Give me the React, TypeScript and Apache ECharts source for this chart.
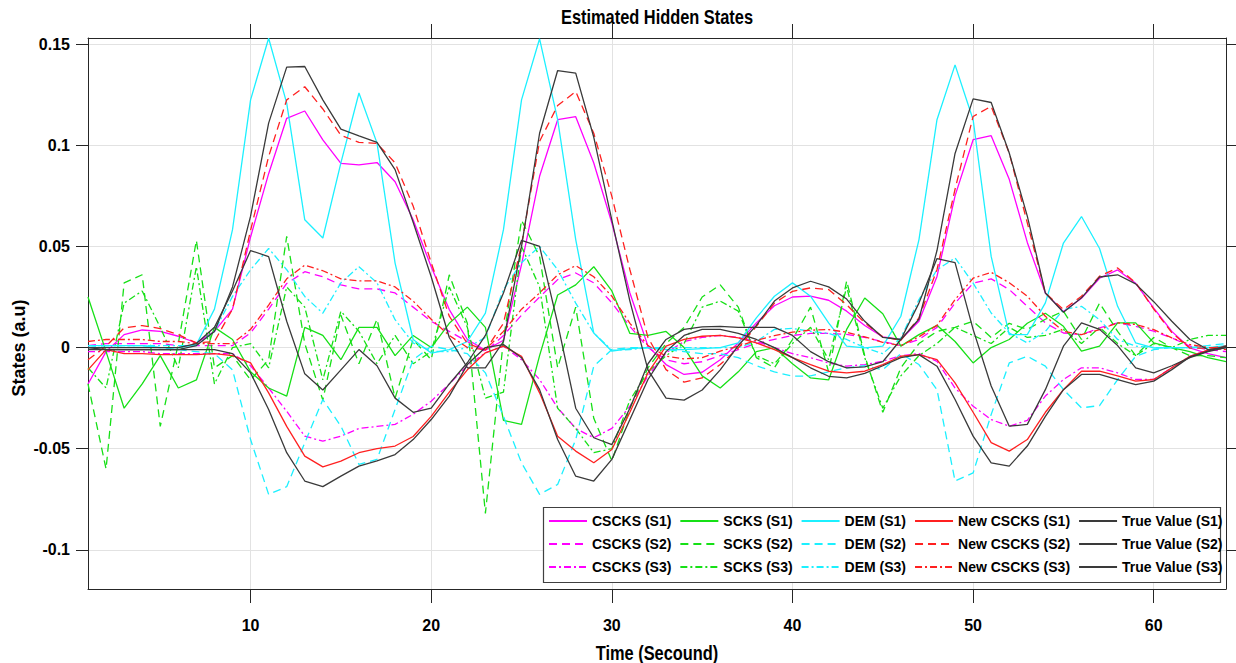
import React, { useEffect, useRef } from "react";
import * as echarts from "echarts";

const SANS = "'Liberation Sans', Arial, Helvetica, sans-serif";

const time = [1, 2, 3, 4, 5, 6, 7, 8, 9, 10, 11, 12, 13, 14, 15, 16, 17, 18, 19, 20, 21, 22, 23, 24, 25, 26, 27, 28, 29, 30, 31, 32, 33, 34, 35, 36, 37, 38, 39, 40, 41, 42, 43, 44, 45, 46, 47, 48, 49, 50, 51, 52, 53, 54, 55, 56, 57, 58, 59, 60, 61, 62, 63, 64];

const xTicks = [10, 20, 30, 40, 50, 60];
const yTicks = [-0.1, -0.05, 0, 0.05, 0.1, 0.15];

const csccksS1 = [-0.018, -0.002, 0.0064, 0.0087, 0.008, 0.0056, 0.0023, 0.008, 0.019, 0.0547,
  0.086, 0.1134, 0.117, 0.1027, 0.0911, 0.0904, 0.0915, 0.082, 0.0632, 0.040,
  0.0188, 0.004, -0.0013, 0.0036, 0.041, 0.0847, 0.1127, 0.1142, 0.0913, 0.0616,
  0.027, 0.0007, -0.0084, -0.0133, -0.0122, -0.006, 0.0023, 0.0122, 0.0207, 0.025,
  0.0254, 0.0234, 0.018, 0.0109, 0.0053, 0.004, 0.013, 0.0352, 0.075, 0.1028,
  0.1048, 0.0832, 0.052, 0.027, 0.0178, 0.0244, 0.0343, 0.0384, 0.0318, 0.0195,
  0.008, -0.0002, -0.003, -0.005];
const csccksS2 = [0.001, 0.002, 0.002, 0.002, 0.002, 0.001, 0.001, 0.001, 0.001, 0.0072,
  0.019, 0.0317, 0.0375, 0.035, 0.031, 0.029, 0.029, 0.027, 0.020, 0.013,
  0.008, 0.003, -0.002, 0.006, 0.016, 0.025, 0.0336, 0.0369, 0.032, 0.0221,
  0.0105, 0.0, -0.006, -0.008, -0.007, -0.004, -0.001, 0.002, 0.004, 0.006,
  0.007, 0.007, 0.0065, 0.005, 0.003, 0.001, 0.004, 0.010, 0.022, 0.0318,
  0.034, 0.0287, 0.0204, 0.0122, 0.0072, 0.0064, 0.0097, 0.0122, 0.0105, 0.0081,
  0.0048, 0.0007, -0.001, -0.002];
const csccksS3 = [-0.002, -0.002, -0.002, -0.002, -0.003, -0.003, -0.003, -0.003, -0.003, -0.009,
  -0.020, -0.0315, -0.0438, -0.0463, -0.0438, -0.040, -0.039, -0.038, -0.033, -0.0265,
  -0.018, -0.009, -0.0026, 0.0007, -0.006, -0.0158, -0.0298, -0.040, -0.0446, -0.040,
  -0.029, -0.014, -0.0026, 0.003, 0.005, 0.006, 0.005, 0.003, 0.0, -0.003,
  -0.005, -0.0076, -0.0092, -0.0084, -0.0068, -0.004, -0.003, -0.0068, -0.020, -0.029,
  -0.0356, -0.0389, -0.036, -0.024, -0.0158, -0.010, -0.010, -0.0125, -0.0158, -0.0158,
  -0.010, -0.0043, -0.0013, -0.0002];

const scksS1 = [0.025, -0.002, -0.030, -0.018, -0.004, -0.020, -0.016, 0.010, 0.004, -0.012,
  -0.020, -0.024, 0.010, 0.006, -0.006, 0.010, 0.010, -0.004, 0.006, 0.0,
  0.012, 0.020, 0.010, -0.036, -0.038, -0.004, 0.026, 0.031, 0.040, 0.028,
  0.007, 0.006, 0.008, 0.000, -0.014, -0.020, -0.012, -0.002, 0.0, -0.008,
  -0.015, -0.016, 0.009, 0.0245, 0.0167, 0.0007, 0.0064, 0.011, 0.003, -0.0076,
  0.0, 0.004, 0.012, 0.017, 0.0105, -0.0018, 0.0007, 0.0122, 0.0122, 0.0023,
  0.0, -0.002, -0.005, -0.007];
const scksS2 = [-0.018, -0.060, 0.032, 0.036, -0.039, 0.002, 0.053, -0.010, -0.004, -0.016,
  -0.006, 0.055, 0.002, -0.026, 0.016, -0.008, 0.014, -0.025, 0.004, -0.006,
  0.036, 0.012, -0.082, 0.004, 0.063, 0.045, -0.010, 0.020, -0.035, -0.056,
  -0.030, -0.010, 0.002, 0.010, 0.025, 0.031, 0.020, -0.005, -0.010, 0.004,
  0.020, -0.012, 0.033, -0.004, -0.032, -0.010, 0.002, 0.008, 0.010, 0.013,
  0.005, 0.012, 0.009, 0.014, 0.018, 0.004, 0.022, 0.008, -0.004, 0.005,
  0.0, -0.004, -0.004, -0.005];
const scksS3 = [-0.010, -0.020, 0.022, 0.028, 0.010, -0.010, 0.040, -0.018, 0.0, 0.002,
  -0.010, 0.030, 0.020, -0.016, 0.018, 0.008, -0.008, 0.006, -0.008, -0.002,
  0.030, 0.010, -0.025, -0.022, 0.050, 0.030, -0.030, -0.040, -0.052, -0.050,
  -0.026, -0.012, -0.004, 0.002, 0.020, 0.023, 0.018, -0.004, -0.008, 0.002,
  0.010, -0.006, 0.030, -0.005, -0.030, -0.014, -0.004, 0.002, 0.010, 0.006,
  0.002, 0.010, 0.005, 0.006, 0.009, 0.002, 0.010, 0.002, -0.004, 0.002,
  0.0, 0.004, 0.006, 0.006];

const demS1 = [0.001, 0.001, 0.001, 0.001, 0.0, 0.0, 0.0015, 0.019, 0.0583, 0.1225,
  0.153, 0.1209, 0.0632, 0.0542, 0.0913, 0.1259, 0.1011, 0.0418, 0.004, -0.0027,
  -0.001, 0.003, 0.017, 0.0583, 0.1225, 0.1527, 0.1127, 0.0534, 0.0072, -0.0018,
  -0.0005, 0.0, -0.001, -0.001, -0.0005, 0.0, 0.0023, 0.0147, 0.0254, 0.032,
  0.0254, 0.0122, 0.0007, -0.0002, 0.0007, 0.0155, 0.0533, 0.1127, 0.1398, 0.1127,
  0.0451, 0.0064, 0.0064, 0.0221, 0.0517, 0.0648, 0.049, 0.0204, 0.0023, -0.0002,
  0.0, 0.0, 0.0, 0.001];
const demS2 = [0.0, 0.001, 0.001, 0.001, 0.0, -0.001, -0.002, -0.003, -0.011, -0.0455,
  -0.0726, -0.0688, -0.0471, -0.0257, -0.0389, -0.0578, -0.0553, -0.0306, -0.006, 0.0007,
  -0.001, -0.003, -0.0125, -0.034, -0.057, -0.0726, -0.0677, -0.0455, -0.0092, -0.001,
  0.0, 0.0, -0.001, -0.002, -0.003, -0.003, -0.005, -0.009, -0.012, -0.0142,
  -0.014, -0.012, -0.010, -0.009, -0.011, -0.003, -0.0084, -0.0208, -0.066, -0.062,
  -0.0331, -0.0076, -0.0043, -0.0092, -0.0208, -0.0298, -0.0287, -0.0158, -0.0043, -0.001,
  0.0, 0.0, 0.001, 0.002];
const demS3 = [0.001, 0.001, 0.001, 0.001, 0.001, 0.001, 0.001, 0.008, 0.0253, 0.0385,
  0.049, 0.0385, 0.0253, 0.017, 0.032, 0.040, 0.032, 0.0138, 0.0023, -0.0018,
  -0.002, 0.0, 0.005, 0.0287, 0.042, 0.050, 0.0385, 0.022, 0.0072, -0.0013,
  -0.001, 0.0, 0.0, 0.0, 0.0, 0.0, 0.0, 0.003, 0.009, 0.0095,
  0.008, 0.007, 0.004, 0.0, -0.003, 0.0048, 0.0237, 0.0385, 0.0443, 0.0319,
  0.0171, 0.0072, 0.0023, 0.008, 0.0188, 0.0204, 0.0138, 0.004, 0.0007, 0.0,
  0.0, 0.0, 0.0, 0.0];

const newS1 = [-0.011, -0.001, -0.003, -0.003, -0.0035, -0.0035, -0.0035, -0.003, -0.004, -0.0076,
  -0.0224, -0.039, -0.0537, -0.059, -0.0562, -0.052, -0.050, -0.0487, -0.044, -0.034,
  -0.022, -0.011, -0.0026, 0.0007, -0.0043, -0.0224, -0.0438, -0.0512, -0.057, -0.0504,
  -0.032, -0.0125, 0.0007, 0.004, 0.0056, 0.006, 0.0048, 0.0023, -0.001, -0.005,
  -0.0084, -0.0117, -0.0125, -0.0117, -0.0084, -0.0043, -0.0035, -0.006, -0.0175, -0.032,
  -0.047, -0.0512, -0.0455, -0.032, -0.0208, -0.0117, -0.0117, -0.014, -0.0166, -0.0158,
  -0.010, -0.0043, -0.0013, 0.0007];
const newS2 = [-0.006, 0.0007, 0.0097, 0.0109, 0.0094, 0.0064, 0.0023, 0.003, 0.019, 0.058,
  0.0945, 0.1225, 0.129, 0.118, 0.105, 0.1015, 0.101, 0.0913, 0.070, 0.042,
  0.0155, 0.002, -0.0013, 0.012, 0.051, 0.102, 0.1197, 0.1266, 0.106, 0.0748,
  0.0385, 0.005, -0.0109, -0.0171, -0.015, -0.0084, -0.0002, 0.0105, 0.022, 0.0278,
  0.0295, 0.0287, 0.0212, 0.0122, 0.0053, 0.0036, 0.0147, 0.0385, 0.0783, 0.1143,
  0.1193, 0.0962, 0.0617, 0.027, 0.0188, 0.0254, 0.0353, 0.0394, 0.0321, 0.019,
  0.0074, -0.0003, -0.0003, 0.0007];
const newS3 = [0.003, 0.004, 0.004, 0.004, 0.003, 0.003, 0.002, 0.002, 0.002, 0.009,
  0.021, 0.034, 0.0408, 0.038, 0.034, 0.033, 0.033, 0.030, 0.023, 0.014,
  0.006, 0.0, -0.001, 0.008, 0.019, 0.027, 0.036, 0.0405, 0.035, 0.0254,
  0.012, 0.001, -0.0043, -0.0056, -0.005, -0.0018, 0.0007, 0.0036, 0.0059, 0.0076,
  0.0086, 0.0089, 0.0076, 0.0053, 0.0026, 0.001, 0.0053, 0.011, 0.0237, 0.0343,
  0.0372, 0.0321, 0.0254, 0.0155, 0.008, 0.0064, 0.0089, 0.0122, 0.0114, 0.0089,
  0.0048, 0.0015, 0.0, -0.001];

const trueS1 = [0, -0.001, -0.001, -0.001, -0.001, -0.001, 0.001, 0.008, 0.030, 0.065,
  0.111, 0.1387, 0.139, 0.1225, 0.108, 0.1047, 0.1015, 0.088, 0.062, 0.035,
  0.005, -0.010, -0.010, 0.003, 0.050, 0.106, 0.137, 0.1357, 0.104, 0.063,
  0.023, -0.011, -0.025, -0.026, -0.021, -0.011, 0.001, 0.011, 0.023, 0.0295,
  0.0328, 0.030, 0.024, 0.013, 0.005, 0.004, 0.014, 0.048, 0.096, 0.123,
  0.1212, 0.0962, 0.065, 0.027, 0.0175, 0.0246, 0.0349, 0.036, 0.0315, 0.0227,
  0.013, 0.004, -0.001, 0.0];
const trueS2 = [0, 0, 0, 0, 0, 0, 0.002, 0.010, 0.028, 0.048,
  0.045, 0.013, -0.013, -0.021, -0.011, -0.001, -0.009, -0.025, -0.032, -0.030,
  -0.018, -0.0075, 0.006, 0.027, 0.053, 0.050, 0.012, -0.030, -0.0446, -0.048,
  -0.030, -0.008, 0.004, 0.009, 0.0102, 0.0105, 0.0100, 0.0100, 0.0100, 0.006,
  -0.002, -0.007, -0.010, -0.0095, -0.007, 0.004, 0.022, 0.044, 0.042, 0.009,
  -0.019, -0.0389, -0.038, -0.0208, 0.0007, 0.0122, 0.009, 0.001, -0.010, -0.0125,
  -0.009, -0.005, -0.002, 0.0];
const trueS3 = [-0.001, -0.001, -0.001, -0.001, -0.001, -0.001, -0.001, -0.001, -0.003, -0.0125,
  -0.0306, -0.052, -0.066, -0.0688, -0.0636, -0.0586, -0.056, -0.0529, -0.0455, -0.0356,
  -0.024, -0.0084, 0.0, 0.0015, -0.005, -0.0208, -0.0455, -0.0636, -0.066, -0.0553,
  -0.0356, -0.0158, -0.002, 0.006, 0.009, 0.009, 0.007, 0.004, 0.0, -0.005,
  -0.010, -0.0142, -0.015, -0.0128, -0.009, -0.005, -0.0035, -0.0092, -0.0257, -0.0438,
  -0.057, -0.0586, -0.0487, -0.034, -0.0208, -0.0133, -0.0133, -0.0158, -0.0183, -0.0166,
  -0.0109, -0.0046, -0.0018, 0.0007];

const MAGENTA = "#ff00ff";
const GREEN = "#16e016";
const CYAN = "#1cf0ff";
const RED = "#ff2020";
const BLACK = "#3a3a3a";
const SOLID = "solid";
const DASHED = [8, 5];
const DASHDOT = [7, 3, 2, 3];

const seriesDefs = [
  { name: "CSCKS (S1)", data: csccksS1, color: MAGENTA, dash: SOLID },
  { name: "CSCKS (S2)", data: csccksS2, color: MAGENTA, dash: DASHED },
  { name: "CSCKS (S3)", data: csccksS3, color: MAGENTA, dash: DASHDOT },
  { name: "SCKS (S1)", data: scksS1, color: GREEN, dash: SOLID },
  { name: "SCKS (S2)", data: scksS2, color: GREEN, dash: DASHED },
  { name: "SCKS (S3)", data: scksS3, color: GREEN, dash: DASHDOT },
  { name: "DEM (S1)", data: demS1, color: CYAN, dash: SOLID },
  { name: "DEM (S2)", data: demS2, color: CYAN, dash: DASHED },
  { name: "DEM (S3)", data: demS3, color: CYAN, dash: DASHDOT },
  { name: "New CSCKS (S1)", data: newS1, color: RED, dash: SOLID },
  { name: "New CSCKS (S2)", data: newS2, color: RED, dash: DASHED },
  { name: "New CSCKS (S3)", data: newS3, color: RED, dash: DASHDOT },
  { name: "True Value (S1)", data: trueS1, color: BLACK, dash: SOLID },
  { name: "True Value (S2)", data: trueS2, color: BLACK, dash: SOLID },
  { name: "True Value (S3)", data: trueS3, color: BLACK, dash: SOLID },
];

const legendRows = [
  ["CSCKS (S1)", "SCKS (S1)", "DEM (S1)", "New CSCKS (S1)", "True Value (S1)"],
  ["CSCKS (S2)", "SCKS (S2)", "DEM (S2)", "New CSCKS (S2)", "True Value (S2)"],
  ["CSCKS (S3)", "SCKS (S3)", "DEM (S3)", "New CSCKS (S3)", "True Value (S3)"],
];

const AXIS_COLOR = "#262626";
const GRID_COLOR = "#e2e2e2";

export default function App() {
  const ref = useRef<HTMLDivElement>(null);
  useEffect(() => {
    if (!ref.current) return;
    const chart = echarts.init(ref.current, null, { renderer: "svg" });
    const labelStyle = { fontFamily: SANS, fontWeight: "bold", fontSize: 16, color: "#000" };
    const option = {
      animation: false,
      backgroundColor: "#fff",
      grid: { left: 88, top: 38, right: 10, bottom: 74, containLabel: false },
      xAxis: [
        {
          type: "value", min: 1, max: 64, minInterval: 10, maxInterval: 10, position: "bottom",
          axisLine: { show: true, onZero: false, lineStyle: { color: AXIS_COLOR, width: 1 } },
          axisTick: { show: true, inside: false, length: 14, customValues: xTicks, lineStyle: { color: AXIS_COLOR } },
          axisLabel: { customValues: xTicks, margin: 28, ...labelStyle },
          splitLine: { show: true, lineStyle: { color: GRID_COLOR, width: 1 } },
        },
        {
          type: "value", min: 1, max: 64, minInterval: 10, maxInterval: 10, position: "top",
          axisLine: { show: true, onZero: false, lineStyle: { color: AXIS_COLOR, width: 1 } },
          axisTick: { show: true, inside: false, length: 14, customValues: xTicks, lineStyle: { color: AXIS_COLOR } },
          axisLabel: { show: false },
          splitLine: { show: false },
        },
      ],
      yAxis: [
        {
          type: "value", min: -0.1194, max: 0.1531, minInterval: 0.05, maxInterval: 0.05, position: "left",
          axisLine: { show: true, onZero: false, lineStyle: { color: AXIS_COLOR, width: 1 } },
          axisTick: { show: true, inside: false, length: 12, customValues: yTicks, lineStyle: { color: AXIS_COLOR } },
          axisLabel: {
            customValues: yTicks, margin: 18, ...labelStyle,
            formatter: (v: number) => (Math.abs(v) < 1e-9 ? "0" : String(+v.toFixed(2))),
          },
          splitLine: { show: true, lineStyle: { color: GRID_COLOR, width: 1 } },
        },
        {
          type: "value", min: -0.1194, max: 0.1531, minInterval: 0.05, maxInterval: 0.05, position: "right",
          axisLine: { show: true, onZero: false, lineStyle: { color: AXIS_COLOR, width: 1 } },
          axisTick: { show: true, inside: false, length: 12, customValues: yTicks, lineStyle: { color: AXIS_COLOR } },
          axisLabel: { show: false },
          splitLine: { show: false },
        },
      ],
      legend: legendRows.map((row, r) => ({
        data: row,
        left: 548,
        top: 514 + r * 23,
        orient: "horizontal",
        itemWidth: 38,
        itemHeight: 14,
        itemGap: 8,
        padding: 0,
        selectedMode: false,
        z: 20,
        itemStyle: { opacity: 0 },
        textStyle: { fontFamily: SANS, fontWeight: "bold", fontSize: 14, color: "#000" },
      })),
      graphic: [
        {
          type: "rect", z: 15,
          shape: { x: 543.5, y: 507.5, width: 677, height: 75 },
          style: { fill: "#fff", stroke: "#404040", lineWidth: 1.2 },
        },
        {
          type: "text", x: 657, y: 17, z: 30, scaleX: 0.82,
          style: { text: "Estimated Hidden States", fontFamily: SANS, fontWeight: "bold", fontSize: 20, fill: "#000", align: "center", verticalAlign: "middle", textAlign: "center", textVerticalAlign: "middle" },
        },
        {
          type: "text", x: 657, y: 653, z: 30, scaleX: 0.82,
          style: { text: "Time (Secound)", fontFamily: SANS, fontWeight: "bold", fontSize: 20, fill: "#000", align: "center", verticalAlign: "middle", textAlign: "center", textVerticalAlign: "middle" },
        },
        {
          type: "text", x: 19, y: 348, z: 30, rotation: Math.PI / 2,
          style: { text: "States (a.u)", fontFamily: SANS, fontWeight: "bold", fontSize: 18, fill: "#000", align: "center", verticalAlign: "middle", textAlign: "center", textVerticalAlign: "middle" },
        },
      ],
      series: seriesDefs.map((s) => ({
        name: s.name,
        type: "line",
        xAxisIndex: 0,
        yAxisIndex: 0,
        data: s.data.map((v, i) => [time[i], v]),
        symbol: "none",
        showSymbol: false,
        silent: true,
        z: 2,
        lineStyle: { color: s.color, width: 1.3, type: s.dash },
        itemStyle: { color: s.color },
        emphasis: { disabled: true },
      })),
    };
    chart.setOption(option as any);
    return () => chart.dispose();
  }, []);
  return (
    <div
      ref={ref}
      style={{ position: "fixed", left: 0, top: 0, width: 1236, height: 663, background: "#fff" }}
    />
  );
}
